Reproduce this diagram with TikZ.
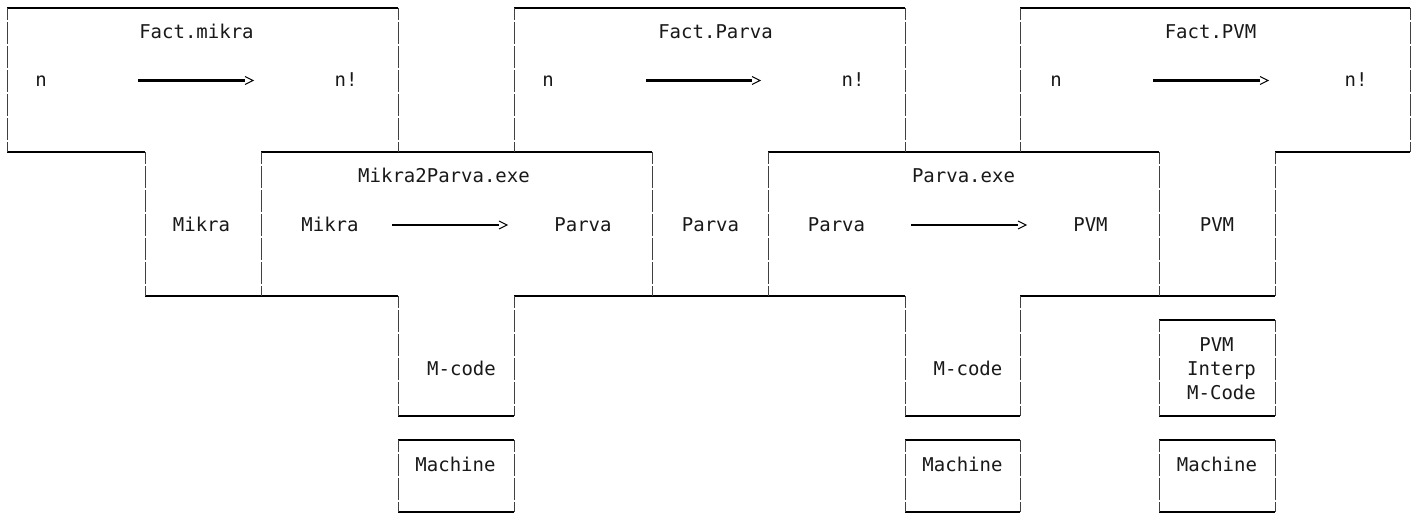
\documentclass[tikz,border=0pt]{standalone}
\usepackage{fontspec}
\newfontfamily\monofont{DejaVu Sans Mono}
\usetikzlibrary{calc}
\begin{document}
\begin{tikzpicture}[x=1pt,y=-1pt,
  hline/.style={line width=2.2pt, black},
  vline/.style={line width=1pt, black!75, dash pattern=on 22pt off 2pt, dash phase=10pt},
  lbl/.style={font=\monofont\fontsize{19}{22}\selectfont, text=black!90, inner sep=0pt, anchor=base},
  shaft/.style={line width=2.2pt, black},
  chev/.style={line width=1pt, black, line join=miter}]
\useasboundingbox[fill=white] (0,0) rectangle (1417,513);

% ---------- horizontal lines ----------
\draw[hline] (7,8) -- (398,8);
\draw[hline] (514,8) -- (905,8);
\draw[hline] (1020,8) -- (1410,8);
\draw[hline] (7,152) -- (145,152);
\draw[hline] (261,152) -- (652,152);
\draw[hline] (768,152) -- (1159,152);
\draw[hline] (1275,152) -- (1410,152);
\draw[hline] (145,296) -- (398,296);
\draw[hline] (514,296) -- (905,296);
\draw[hline] (1020,296) -- (1275,296);
\draw[hline] (1159,320) -- (1275,320);
\foreach \a/\b in {398/514, 905/1020, 1159/1275}{
  \draw[hline] (\a,416) -- (\b,416);
  \draw[hline] (\a,440) -- (\b,440);
  \draw[hline] (\a,512) -- (\b,512);
}

% ---------- vertical lines ----------
\foreach \x in {7,398,514,905,1020,1410}{ \draw[vline] (\x,8) -- (\x,152); }
\foreach \x in {145,261,652,768,1159,1275}{ \draw[vline] (\x,152) -- (\x,296); }
\foreach \x in {398,514,905,1020}{ \draw[vline] (\x,296) -- (\x,416); }
\foreach \x in {1159,1275}{ \draw[vline] (\x,320) -- (\x,416); }
\foreach \x in {398,514,905,1020,1159,1275}{ \draw[vline] (\x,440) -- (\x,512); }

% ---------- labels ----------
\node[lbl] (f1) at (196.5,39) {Fact.mikra};
\node[lbl] (f2) at (715.5,39) {Fact.Parva};
\node[lbl] (f3) at (1210.5,39) {Fact.PVM};

\node[lbl] (n1) at (41,87) {n};
\node[lbl] (r1) at (346,87) {n!};
\node[lbl] (n2) at (548,87) {n};
\node[lbl] (r2) at (853,87) {n!};
\node[lbl] (n3) at (1056,87) {n};
\node[lbl] (r3) at (1356,87) {n!};

\node[lbl] (c1) at (444,183) {Mikra2Parva.exe};
\node[lbl] (c2) at (963.5,183) {Parva.exe};

\node[lbl] (s1) at (201.5,231.5) {Mikra};
\node[lbl] (i1) at (330,231.5) {Mikra};
\node[lbl] (o1) at (583,231.5) {Parva};
\node[lbl] (s2) at (710.5,231.5) {Parva};
\node[lbl] (i2) at (836.5,231.5) {Parva};
\node[lbl] (o2) at (1090.5,231.5) {PVM};
\node[lbl] (s3) at (1217,231.5) {PVM};

\node[lbl] (m1) at (461.5,375) {M-code};
\node[lbl] (m2) at (968,375) {M-code};
\node[lbl] (p1) at (1216.5,351) {PVM};
\node[lbl] (p2) at (1221.5,375) {Interp};
\node[lbl] (p3) at (1221.5,399) {M-Code};

\node[lbl] (h1) at (455.5,471) {Machine};
\node[lbl] (h2) at (962.5,471) {Machine};
\node[lbl] (h3) at (1217,471) {Machine};

% ---------- arrows ----------
\foreach \s/\e/\y [count=\k] in {138/245/80.5, 646/752/80.5, 1153/1260/80.5, 392/499/225, 911/1018/225}{
  \coordinate (as\k) at (\s,\y);
  \coordinate (ae\k) at (\e,\y);
  \draw[shaft] (as\k) -- (ae\k);
  \draw[chev] ($(ae\k)+(0,-4)$) -- ($(ae\k)+(8,0)$) -- ($(ae\k)+(0,4)$);
}
\end{tikzpicture}
\end{document}
